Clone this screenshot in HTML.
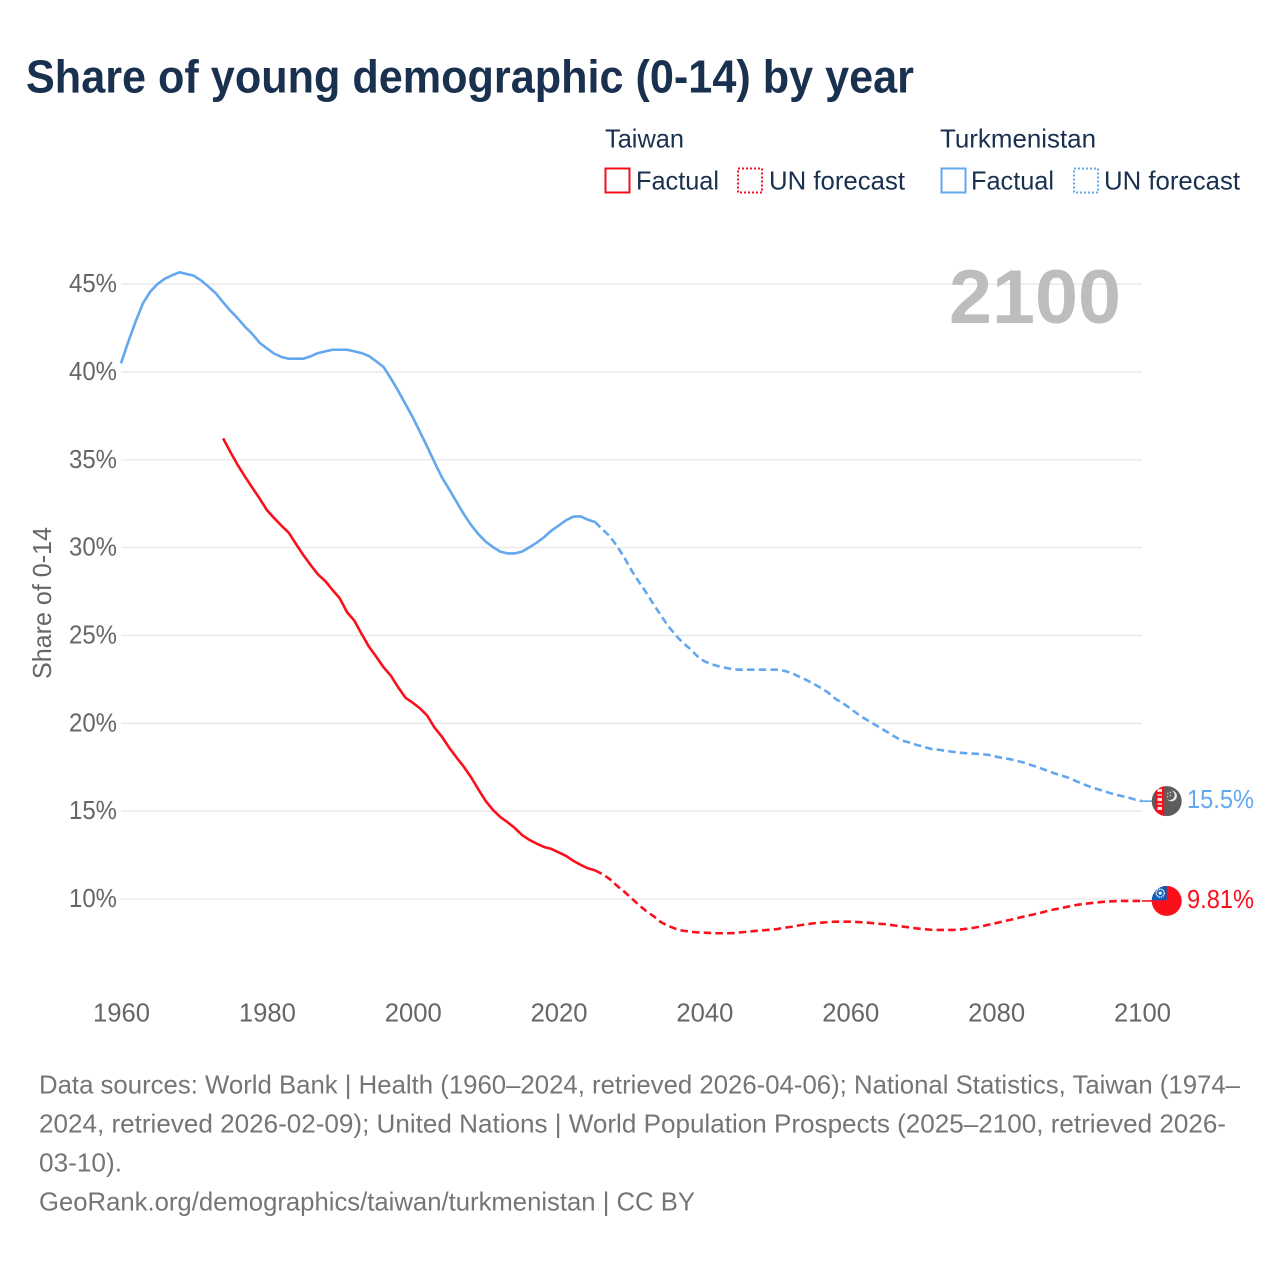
<!DOCTYPE html>
<html lang="en">
<head>
<meta charset="utf-8">
<title>Share of young demographic (0-14) by year</title>
<style>
  html, body { margin: 0; padding: 0; background: #ffffff; }
  svg { display: block; font-family: "Liberation Sans", sans-serif; }
</style>
</head>
<body>
<svg id="chart" xmlns="http://www.w3.org/2000/svg" width="1280" height="1280" viewBox="0 0 1280 1280">
  <defs>
    <clipPath id="flag-clip-tm"><circle cx="1166.7" cy="801.2" r="15"></circle></clipPath>
    <clipPath id="flag-clip-tw"><circle cx="1166.7" cy="901.3" r="15"></circle></clipPath>
  </defs>
  <rect x="0" y="0" width="1280" height="1280" fill="#ffffff"></rect>

  <text x="26" y="92.5" font-size="46.5" font-weight="700" fill="#1a304f" textLength="888" lengthAdjust="spacingAndGlyphs">Share of young demographic (0-14) by year</text>

  <g font-size="26" fill="#1a304f">
    <text x="605" y="147.5" textLength="79" lengthAdjust="spacingAndGlyphs">Taiwan</text>
    <rect x="605.5" y="168.5" width="24" height="24" fill="none" stroke="#f50f1c" stroke-width="2"></rect>
    <text x="636" y="189.5" textLength="83" lengthAdjust="spacingAndGlyphs">Factual</text>
    <rect x="738" y="168.5" width="24" height="24" fill="none" stroke="#f50f1c" stroke-width="2" stroke-dasharray="2 2"></rect>
    <text x="769" y="189.5" textLength="136" lengthAdjust="spacingAndGlyphs">UN forecast</text>

    <text x="940" y="147.5" textLength="156" lengthAdjust="spacingAndGlyphs">Turkmenistan</text>
    <rect x="941.5" y="168.5" width="24" height="24" fill="none" stroke="#63a7ee" stroke-width="2"></rect>
    <text x="971" y="189.5" textLength="83" lengthAdjust="spacingAndGlyphs">Factual</text>
    <rect x="1074" y="168.5" width="24" height="24" fill="none" stroke="#63a7ee" stroke-width="2" stroke-dasharray="2 2"></rect>
    <text x="1104" y="189.5" textLength="136" lengthAdjust="spacingAndGlyphs">UN forecast</text>
  </g>

  <g id="grid"></g>
  <g id="y-ticks"></g>
  <g id="x-ticks"></g>

  <text transform="translate(51,679) rotate(-90)" font-size="26" fill="#666666" textLength="152" lengthAdjust="spacingAndGlyphs">Share of 0-14</text>

  <text x="949" y="323" font-size="76" font-weight="700" fill="#bdbdbd" textLength="172" lengthAdjust="spacingAndGlyphs">2100</text>

  <g id="series"></g>

  <g id="flag-tm">
    <g clip-path="url(#flag-clip-tm)">
      <rect x="1151" y="785" width="32" height="32" fill="#5b5d5b"></rect>
      <rect x="1155" y="785" width="9.3" height="32" fill="#f50f1c"></rect>
      <rect x="1157.5" y="789" width="4.5" height="3" fill="#e6e6e6"></rect>
      <rect x="1157.5" y="794" width="4.5" height="2" fill="#d8a8a8"></rect>
      <rect x="1157.5" y="798" width="4.5" height="3" fill="#e6e6e6"></rect>
      <rect x="1157.5" y="803" width="4.5" height="2" fill="#d8a8a8"></rect>
      <rect x="1157.5" y="807" width="4.5" height="3" fill="#e6e6e6"></rect>
      <circle cx="1171.5" cy="796" r="5.4" fill="#e4e4e4"></circle>
      <circle cx="1169.6" cy="795.2" r="5" fill="#5b5d5b"></circle>
      <circle cx="1167.8" cy="793.5" r="0.8" fill="#cfcfcf"></circle>
      <circle cx="1170.5" cy="792.5" r="0.8" fill="#cfcfcf"></circle>
      <circle cx="1167.5" cy="796.8" r="0.8" fill="#cfcfcf"></circle>
      <circle cx="1170.3" cy="795.6" r="0.8" fill="#cfcfcf"></circle>
    </g>
  </g>
  <g id="flag-tw">
    <g clip-path="url(#flag-clip-tw)">
      <rect x="1151" y="886" width="32" height="32" fill="#fb0f1b"></rect>
      <rect x="1151" y="886" width="15.7" height="14.7" fill="#0d5cb8"></rect>
      <circle cx="1160.2" cy="893.5" r="4" fill="none" stroke="#ffffff" stroke-width="1.4" stroke-dasharray="1.4 0.8"></circle>
      <circle cx="1160.2" cy="893.5" r="1.6" fill="#ffffff"></circle>
    </g>
  </g>

  <g id="end-labels"></g>

  <g font-size="26" fill="#757575">
    <text x="39" y="1093.5" textLength="1201" lengthAdjust="spacingAndGlyphs">Data sources: World Bank | Health (1960–2024, retrieved 2026-04-06); National Statistics, Taiwan (1974–</text>
    <text x="39" y="1132.5" textLength="1187" lengthAdjust="spacingAndGlyphs">2024, retrieved 2026-02-09); United Nations | World Population Prospects (2025–2100, retrieved 2026-</text>
    <text x="39" y="1171.5" textLength="83" lengthAdjust="spacingAndGlyphs">03-10).</text>
    <text x="39" y="1210.5" textLength="656" lengthAdjust="spacingAndGlyphs">GeoRank.org/demographics/taiwan/turkmenistan | CC BY</text>
  </g>
</svg>

<script>
// ---- chart data ----
const yTickValues = [10, 15, 20, 25, 30, 35, 40, 45];
const yTickLabels = ["10%", "15%", "20%", "25%", "30%", "35%", "40%", "45%"];
const xTickYears = [1960, 1980, 2000, 2020, 2040, 2060, 2080, 2100];
const xTickLabels = ["1960", "1980", "2000", "2020", "2040", "2060", "2080", "2100"];

const turkmenistanFactualStart = 1960;
const turkmenistanFactual = [
  40.49, 41.72, 42.86, 43.9, 44.56, 45.0, 45.3, 45.5, 45.67, 45.57,
  45.47, 45.2, 44.85, 44.47, 43.96, 43.48, 43.05, 42.57, 42.16, 41.66,
  41.34, 41.04, 40.85, 40.75, 40.75, 40.75, 40.89, 41.07, 41.17, 41.26,
  41.26, 41.26, 41.17, 41.07, 40.9, 40.6, 40.28, 39.63, 38.93, 38.17,
  37.42, 36.58, 35.73, 34.85, 34.0, 33.32, 32.61, 31.91, 31.29, 30.77,
  30.34, 30.03, 29.77, 29.67, 29.67, 29.77, 30.02, 30.28, 30.59, 30.96,
  31.25, 31.55, 31.76, 31.78, 31.59, 31.46
];
const turkmenistanForecastStart = 2025;
const turkmenistanForecast = [
  31.46, 31.04, 30.66, 30.09, 29.45,
  28.7, 28.06, 27.45, 26.79, 26.16, 25.55, 25.04, 24.6, 24.25, 23.83,
  23.53, 23.36, 23.24, 23.15, 23.07, 23.05, 23.05, 23.05, 23.05, 23.05,
  23.05, 22.98, 22.85, 22.65, 22.46, 22.24, 22.01, 21.74, 21.38, 21.14,
  20.85, 20.53, 20.26, 20.02, 19.77, 19.52, 19.26, 19.03, 18.92, 18.78,
  18.67, 18.55, 18.5, 18.44, 18.38, 18.33, 18.29, 18.27, 18.25, 18.2,
  18.1, 18.02, 17.95, 17.85, 17.74, 17.59, 17.46, 17.3, 17.15, 17.02,
  16.89, 16.7, 16.53, 16.37, 16.24, 16.11, 15.98, 15.88, 15.79, 15.66,
  15.57
];
const turkmenistanEndLabel = "15.5%";

const taiwanFactualStart = 1974;
const taiwanFactual = [
  36.22, 35.44, 34.7, 34.04, 33.41, 32.8,
  32.14, 31.68, 31.25, 30.85, 30.2, 29.58, 29.01, 28.48, 28.1, 27.59,
  27.11, 26.32, 25.84, 25.08, 24.36, 23.79, 23.19, 22.71, 22.05, 21.46,
  21.17, 20.85, 20.43, 19.75, 19.24, 18.61, 18.06, 17.53, 16.93, 16.24,
  15.58, 15.07, 14.67, 14.37, 14.04, 13.64, 13.36, 13.15, 12.96, 12.85,
  12.66, 12.46, 12.18, 11.95, 11.75, 11.63
];
const taiwanForecastStart = 2025;
const taiwanForecast = [
  11.63, 11.42, 11.14, 10.76, 10.42,
  10.04, 9.66, 9.32, 9.03, 8.69, 8.48, 8.31, 8.2, 8.14, 8.1,
  8.08, 8.06, 8.05, 8.05, 8.06, 8.1, 8.14, 8.18, 8.22, 8.25,
  8.29, 8.37, 8.42, 8.5, 8.56, 8.62, 8.65, 8.69, 8.71, 8.71,
  8.71, 8.69, 8.67, 8.63, 8.59, 8.56, 8.5, 8.44, 8.39, 8.33,
  8.29, 8.25, 8.24, 8.24, 8.24, 8.26, 8.31, 8.37, 8.44, 8.54,
  8.63, 8.73, 8.82, 8.92, 9.02, 9.11, 9.2, 9.32, 9.41, 9.49,
  9.58, 9.66, 9.72, 9.77, 9.81, 9.85, 9.87, 9.89, 9.89, 9.89,
  9.89
];
const taiwanEndLabel = "9.81%";

// ---- axis functions ----
const NS = "http://www.w3.org/2000/svg";
const TURKMEN_BLUE = "#63a7ee";
const TAIWAN_RED = "#fb0f1b";
function xScale(year) { return 121 + (year - 1960) * (1142 - 121) / 140; }
function yScale(value) { return 899 - (value - 10) * 17.57; }

function make(tag, parent, attrs, text) {
  const node = document.createElementNS(NS, tag);
  Object.keys(attrs).forEach(function (k) { node.setAttribute(k, attrs[k]); });
  if (text !== undefined) node.textContent = text;
  parent.appendChild(node);
  return node;
}

function pointsFor(start, values) {
  return values.map(function (v, i) {
    return xScale(start + i).toFixed(2) + "," + yScale(v).toFixed(2);
  }).join(" ");
}

// ---- gridlines and ticks ----
const gridGroup = document.getElementById("grid");
const yTickGroup = document.getElementById("y-ticks");
yTickValues.forEach(function (v, i) {
  const gridline = make("line", gridGroup, { x1: 121, x2: 1142, y1: yScale(v), y2: yScale(v), stroke: "#ebebeb", "stroke-width": 1.6 });
  
  
  const tick = make("text", yTickGroup, { x: 117, y: yScale(v) + 8, "text-anchor": "end", "font-size": 26, fill: "#666666", textLength: 48, lengthAdjust: "spacingAndGlyphs" }, yTickLabels[i]);
  
  
});

const xTickGroup = document.getElementById("x-ticks");
xTickYears.forEach(function (year, i) {
  const tick = make("text", xTickGroup, { x: xScale(year) + 0.5, y: 1021.5, "text-anchor": "middle", "font-size": 26, fill: "#666666", textLength: 57, lengthAdjust: "spacingAndGlyphs" }, xTickLabels[i]);
  
  
});

// ---- series ----
const seriesGroup = document.getElementById("series");

const tmFactualLine = make("polyline", seriesGroup, { points: pointsFor(turkmenistanFactualStart, turkmenistanFactual), fill: "none", stroke: TURKMEN_BLUE, "stroke-width": 2.6, "stroke-linejoin": "round" });



const tmForecastLine = make("polyline", seriesGroup, { points: pointsFor(turkmenistanForecastStart, turkmenistanForecast), fill: "none", stroke: TURKMEN_BLUE, "stroke-width": 2.6, "stroke-dasharray": "7.5 4.2", "stroke-linejoin": "round" });



const twFactualLine = make("polyline", seriesGroup, { points: pointsFor(taiwanFactualStart, taiwanFactual), fill: "none", stroke: TAIWAN_RED, "stroke-width": 2.6, "stroke-linejoin": "round" });



const twForecastLine = make("polyline", seriesGroup, { points: pointsFor(taiwanForecastStart, taiwanForecast), fill: "none", stroke: TAIWAN_RED, "stroke-width": 2.6, "stroke-dasharray": "7.5 4.2", "stroke-linejoin": "round" });



// ---- end connectors, flags and value labels follow the final data value ----
const tmEndY = yScale(turkmenistanForecast[turkmenistanForecast.length - 1]);
const twEndY = yScale(taiwanForecast[taiwanForecast.length - 1]);

const tmConnector = make("line", seriesGroup, { x1: xScale(2100), x2: 1152, y1: tmEndY, y2: tmEndY, stroke: TURKMEN_BLUE, "stroke-width": 1.6 });



const twConnector = make("line", seriesGroup, { x1: xScale(2100), x2: 1152, y1: twEndY, y2: twEndY, stroke: TAIWAN_RED, "stroke-width": 1.6 });



document.getElementById("flag-tm").setAttribute("transform", "translate(0," + (tmEndY - 801.2).toFixed(2) + ")");
document.getElementById("flag-tw").setAttribute("transform", "translate(0," + (twEndY - 901.3).toFixed(2) + ")");

const endLabelGroup = document.getElementById("end-labels");
const tmEndText = make("text", endLabelGroup, { x: 1187, y: tmEndY + 7, "font-size": 26, fill: TURKMEN_BLUE, textLength: 67, lengthAdjust: "spacingAndGlyphs" }, turkmenistanEndLabel);



const twEndText = make("text", endLabelGroup, { x: 1187, y: twEndY + 7, "font-size": 26, fill: TAIWAN_RED, textLength: 67, lengthAdjust: "spacingAndGlyphs" }, taiwanEndLabel);


</script>
</body>
</html>
